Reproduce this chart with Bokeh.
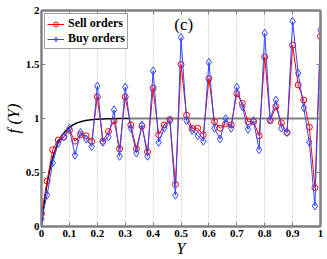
import numpy as np
from bokeh.plotting import figure
from bokeh.models import Range1d, FixedTicker, LinearAxis, Label, ColumnDataSource
from bokeh.embed import file_html
from bokeh.resources import INLINE

# ---- data ----
Y = [0.00, 0.02, 0.04, 0.06, 0.08, 0.10, 0.12, 0.14, 0.16, 0.18,
     0.20, 0.22, 0.24, 0.26, 0.28, 0.30, 0.32, 0.34, 0.36, 0.38,
     0.40, 0.42, 0.44, 0.46, 0.48, 0.50, 0.52, 0.54, 0.56, 0.58,
     0.60, 0.62, 0.64, 0.66, 0.68, 0.70, 0.72, 0.74, 0.76, 0.78,
     0.80, 0.82, 0.84, 0.86, 0.88, 0.90, 0.92, 0.94, 0.96, 0.98, 1.00]
sell = [0.12, 0.42, 0.71, 0.80, 0.83, 0.89, 0.79, 0.85, 0.84, 0.79,
        1.20, 0.79, 0.88, 0.98, 0.72, 1.20, 0.94, 0.72, 0.93, 0.69,
        1.28, 0.85, 0.94, 0.99, 0.39, 1.50, 1.03, 0.91, 0.91, 0.85,
        1.37, 0.97, 0.91, 0.95, 0.94, 1.23, 1.14, 0.97, 0.97, 0.84,
        1.57, 0.98, 1.11, 0.96, 0.87, 1.68, 1.31, 1.17, 0.92, 0.36, 1.76]
buy = [0.07, 0.29, 0.59, 0.77, 0.83, 0.91, 0.66, 0.87, 0.81, 0.74,
       1.30, 0.78, 0.83, 1.08, 0.65, 1.29, 0.91, 0.68, 0.94, 0.65,
       1.44, 0.78, 0.91, 0.98, 0.29, 1.75, 0.98, 0.89, 0.84, 0.79,
       1.52, 0.91, 0.81, 1.00, 0.91, 1.29, 1.11, 0.90, 0.98, 0.71,
       1.79, 0.99, 1.17, 0.91, 0.87, 1.90, 1.42, 1.10, 0.78, 0.19, 1.82]
tau = 0.04          # model f(Y) = 1 - exp(-Y/tau)
fit_end = 0.32      # black part of model curve
x_ticks = [0, 0.1, 0.2, 0.3, 0.4, 0.5, 0.6, 0.7, 0.8, 0.9, 1]
x_tick_labels = ["0", "0.1", "0.2", "0.3", "0.4", "0.5", "0.6", "0.7", "0.8", "0.9", "1"]
y_ticks = [0, 0.5, 1, 1.5, 2]
y_tick_labels = ["0", "0.5", "1", "1.5", "2"]

SERIF = "Liberation Serif"
FRAME = "#808080"

p = figure(width=327, height=259, output_backend="svg", toolbar_location=None,
           x_range=Range1d(0, 1), y_range=Range1d(0, 2),
           min_border_left=40, min_border_right=7, min_border_top=10, min_border_bottom=31)

p.background_fill_color = "white"
p.border_fill_color = "white"
p.outline_line_color = FRAME
p.outline_line_width = 2

# grid
p.ygrid.visible = False
p.xgrid.ticker = FixedTicker(ticks=x_ticks[1:-1])
p.xgrid.grid_line_color = "#b0b0b0"
p.xgrid.grid_line_dash = "1 2"
p.xgrid.grid_line_width = 1

# model curve
yf = np.linspace(0, 1, 400)
ff = 1 - np.exp(-yf / tau)
m1 = yf <= fit_end
k = int(m1.sum()) - 1
p.line(yf[k:], ff[k:], line_color=FRAME, line_width=2)
p.line(yf[m1], ff[m1], line_color="black", line_width=1.5)

src = ColumnDataSource(dict(Y=Y, sell=sell, buy=buy))
RED = "#ff0000"
BLUE = "#3048ff"
p.line("Y", "sell", source=src, line_color=RED, line_width=1, legend_label="Sell orders")
p.scatter("Y", "sell", source=src, marker="circle", size=6, fill_color=None,
          line_color=RED, line_width=1, legend_label="Sell orders")
p.line("Y", "buy", source=src, line_color=BLUE, line_width=1, legend_label="Buy orders")
p.scatter("Y", "buy", source=src, marker="diamond", size=8, fill_color=None,
          line_color=BLUE, line_width=1, legend_label="Buy orders")

# axes
def style_axis(ax, ticks, labels, show_labels=True):
    ax.ticker = FixedTicker(ticks=ticks)
    ax.axis_line_color = FRAME
    ax.axis_line_width = 2
    ax.major_tick_in = 4
    ax.major_tick_out = 0
    ax.major_tick_line_color = FRAME
    ax.minor_tick_line_color = None
    if show_labels:
        ax.major_label_overrides = {t: l for t, l in zip(ticks, labels)}
        ax.major_label_text_font = SERIF
        ax.major_label_text_font_style = "bold"
        ax.major_label_text_font_size = "11px"
        ax.major_label_text_color = "black"
        ax.major_label_standoff = 3
    else:
        ax.major_label_text_color = None
        ax.major_label_text_alpha = 0
        ax.major_label_standoff = 0

style_axis(p.xaxis[0], x_ticks, x_tick_labels)
style_axis(p.yaxis[0], y_ticks, y_tick_labels)
p.yaxis[0].major_label_standoff = 2

p.xaxis[0].axis_label = "Y"
p.yaxis[0].axis_label = "f (Y)"
for ax in (p.xaxis[0], p.yaxis[0]):
    ax.axis_label_text_font = SERIF
    ax.axis_label_text_font_style = "italic"
    ax.axis_label_text_font_size = "17px"
    ax.axis_label_text_color = "black"
    ax.axis_label_standoff = 0
p.xaxis[0].axis_label_text_font_size = "16px"
p.xaxis[0].axis_label_standoff = 0

top = LinearAxis()
right = LinearAxis()
style_axis(top, x_ticks, x_tick_labels, show_labels=False)
style_axis(right, y_ticks, y_tick_labels, show_labels=False)
p.add_layout(top, "above")
p.add_layout(right, "right")

# legend
lg = p.legend[0]
lg.location = "top_left"
lg.margin = 3
lg.padding = 2
lg.spacing = 0
lg.glyph_width = 17
lg.glyph_height = 12
lg.label_height = 12
lg.label_standoff = 4
lg.label_text_font = SERIF
lg.label_text_font_style = "bold"
lg.label_text_font_size = "12px"
lg.label_text_color = "black"
lg.border_line_color = "#444444"
lg.border_line_width = 1
lg.background_fill_alpha = 1

p.add_layout(Label(x=0.51, y=1.87, text="(c)", text_font=SERIF, text_font_size="17px",
                   text_align="center", text_baseline="middle", text_color="black"))

open("out.html", "w").write(file_html(p, INLINE))
